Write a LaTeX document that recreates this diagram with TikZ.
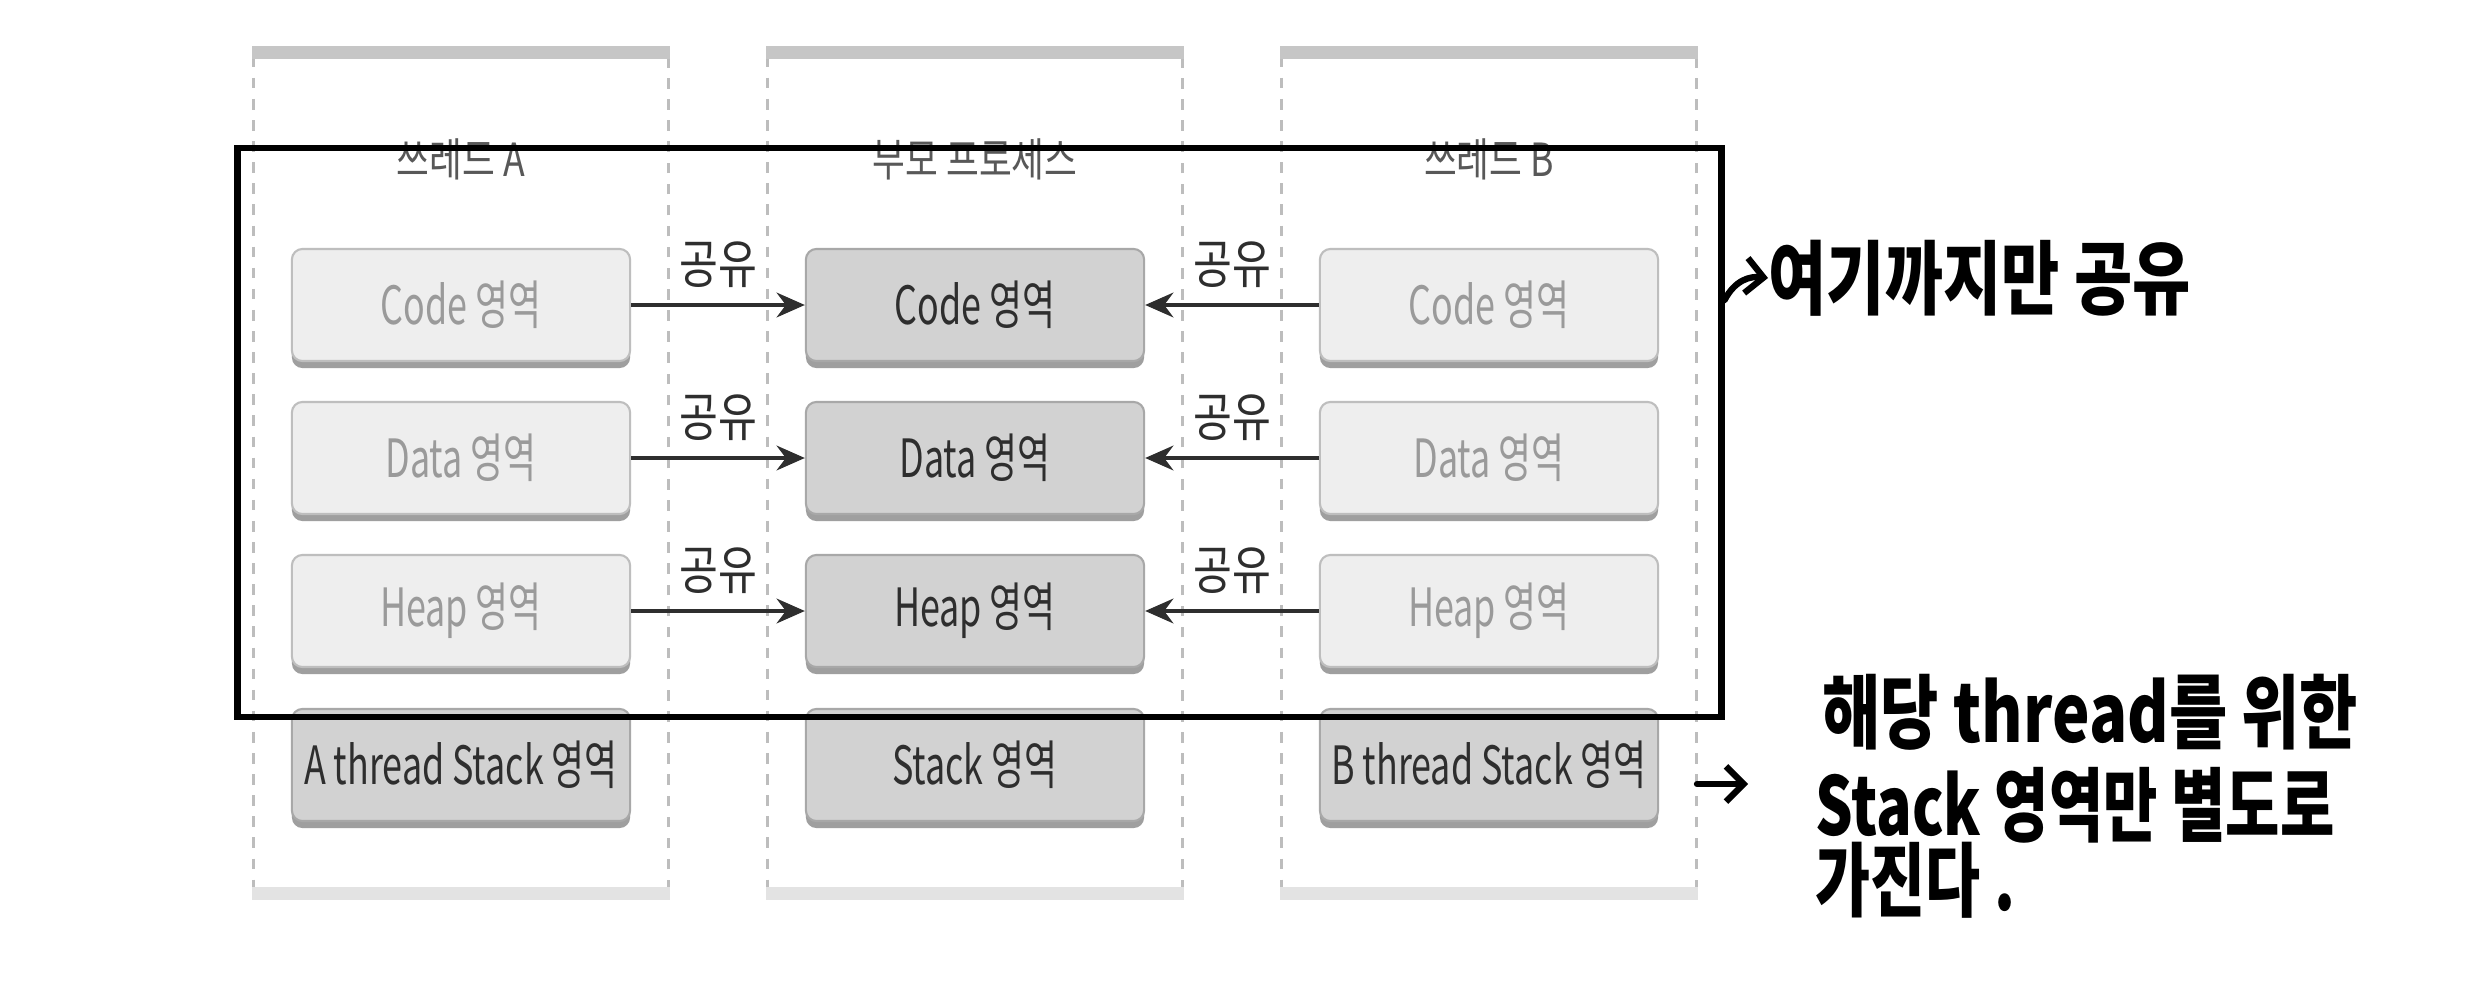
\documentclass[tikz,border=0pt]{standalone}
\usepackage{fontspec}
\usepackage{graphicx}
\setmainfont{Liberation Sans}
\newfontfamily\kr{Noto Sans CJK KR}
\usetikzlibrary{arrows.meta,shadows}
\definecolor{lightbox}{HTML}{EEEEEE}
\definecolor{darkbox}{HTML}{D2D2D2}
\definecolor{lighttxt}{HTML}{9A9A9A}
\definecolor{darktxt}{HTML}{2E2E2E}
\definecolor{frame}{HTML}{BDBDBD}
\begin{document}
\begin{tikzpicture}[x=0.01cm,y=-0.01cm,
  region/.style={rounded corners=3pt, minimum width=3.38cm, minimum height=1.12cm,
    draw=#1!80!black, line width=0.6pt, inner sep=0pt,
    drop shadow={shadow xshift=0pt, shadow yshift=-2pt, fill=gray!75, opacity=1}},
  lightregion/.style={region=lightbox, fill=lightbox, text=lighttxt},
  darkregion/.style={region=darkbox, fill=darkbox, text=darktxt},
  container/.style={draw=frame, dashed, line width=0.8pt, minimum width=4.14cm, minimum height=8.5cm, inner sep=0pt},
  title/.style={text=darktxt!80, font=\kr\fontsize{13}{13}\selectfont},
  sharelbl/.style={font=\kr\fontsize{15}{15}\selectfont, text=darktxt, above=1pt, midway},
  sharearrow/.style={-{Stealth[length=8pt,width=7pt]}, line width=1.2pt, draw=darktxt},
  hand/.style={font=\kr\bfseries\fontsize{20}{20}\selectfont, anchor=west, inner sep=0pt},
  handarrow/.style={-{Straight Barb[length=5pt]}, line width=1.8pt, line cap=round, line join=round}
]
\useasboundingbox (0,0) rectangle (2487,1000);
\fill[white] (0,0) rectangle (2487,1000);

% containers
\foreach \n/\cx in {ca/461, cm/975, cb/1489}{
  \node[container] (\n) at (\cx,473) {};
  \fill[gray!45] (\n.north west) rectangle ([yshift=-3.5pt]\n.north east);
  \fill[gray!22] ([yshift=3.5pt]\n.south west) rectangle (\n.south east);
}

% titles
\node[title] (ta) at (461,159) {\scalebox{0.78}[1]{쓰레드 A}};
\node[title] (tm) at (975,159) {\scalebox{0.78}[1]{부모 프로세스}};
\node[title] (tb) at (1489,159) {\scalebox{0.78}[1]{쓰레드 B}};

% boxes
\newcommand{\lbl}[1]{\kr\fontsize{15}{15}\selectfont\scalebox{0.68}[1]{#1}}
\node[lightregion] (acode) at (461,305) {\lbl{Code 영역}};
\node[lightregion] (adata) at (461,458) {\lbl{Data 영역}};
\node[lightregion] (aheap) at (461,611) {\lbl{Heap 영역}};
\node[darkregion]  (astack) at (461,765) {\lbl{A thread Stack 영역}};

\node[darkregion] (mcode) at (975,305) {\lbl{Code 영역}};
\node[darkregion] (mdata) at (975,458) {\lbl{Data 영역}};
\node[darkregion] (mheap) at (975,611) {\lbl{Heap 영역}};
\node[darkregion] (mstack) at (975,765) {\lbl{Stack 영역}};

\node[lightregion] (bcode) at (1489,305) {\lbl{Code 영역}};
\node[lightregion] (bdata) at (1489,458) {\lbl{Data 영역}};
\node[lightregion] (bheap) at (1489,611) {\lbl{Heap 영역}};
\node[darkregion]  (bstack) at (1489,765) {\lbl{B thread Stack 영역}};

% sharing arrows
\foreach \r in {code,data,heap}{
  \draw[sharearrow] (a\r.east) -- node[sharelbl]{\scalebox{0.8}[1]{공유}} (m\r.west);
  \draw[sharearrow] (b\r.west) -- node[sharelbl]{\scalebox{0.8}[1]{공유}} (m\r.east);
}

% black highlight frame
\node[draw=black, line width=1.8pt, minimum width=14.83cm, minimum height=5.69cm, inner sep=0pt] (share) at (979.5,432.5) {};

% handwritten notes
\node[hand] (hw1) at (1768,278) {\scalebox{0.9}[1.15]{여기까지만 공유}};
\draw[handarrow] (share.east |- 0,300) .. controls (1735,280) and (1750,276) .. (hw1.west);

\node[hand] (hw2a) at (1822,712) {\scalebox{0.9}[1.15]{해당 thread를 위한}};
\node[hand] (hw2b) at (1815,805) {\scalebox{0.84}[1.15]{Stack 영역만 별도로}};
\node[hand] (hw2c) at (1815,880) {\scalebox{0.85}[1.15]{가진다 .}};
\coordinate (s1) at (1697,784);
\coordinate (s2) at (1748,784);
\draw[handarrow] (s1) -- (s2);
\end{tikzpicture}
\end{document}
